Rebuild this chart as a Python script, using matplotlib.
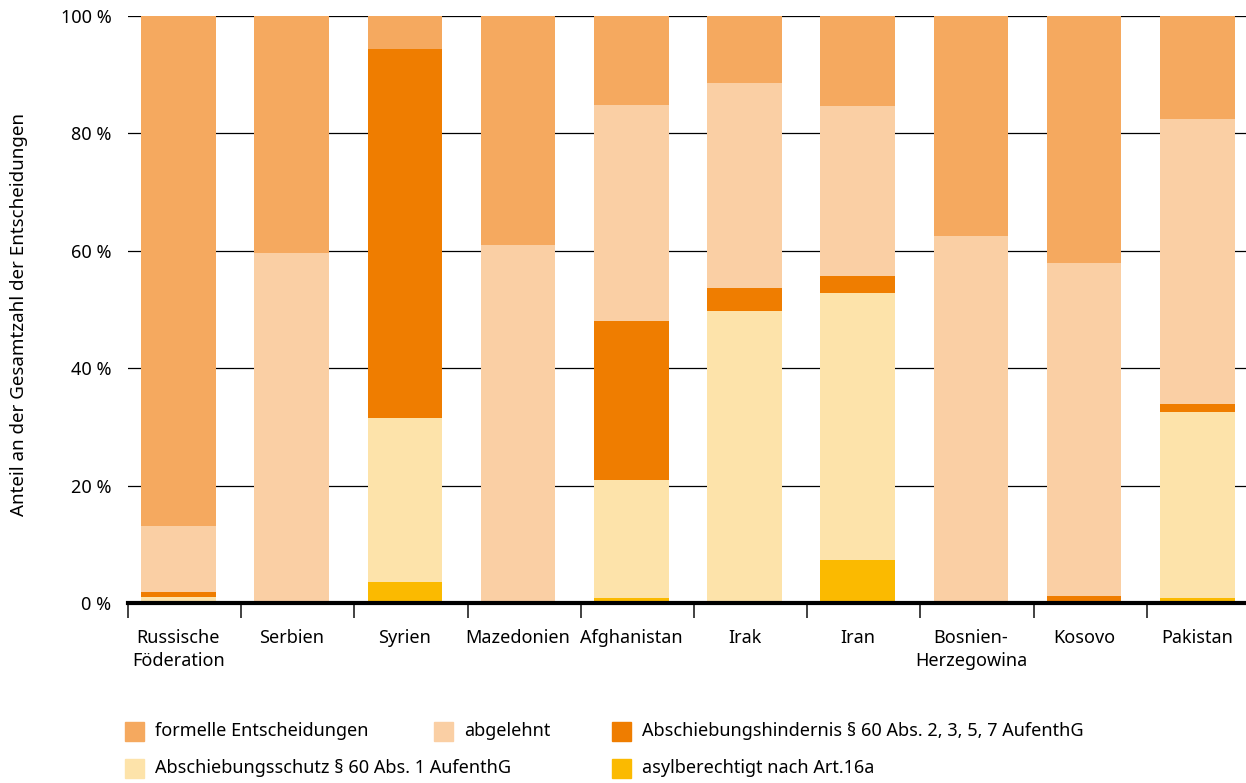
import matplotlib
matplotlib.use("Agg")
import matplotlib.pyplot as plt
import numpy as np
from matplotlib.patches import Rectangle

plt.rcParams['font.family'] = ['Noto Sans', 'DejaVu Sans']

countries = ["Russische\nFöderation", "Serbien", "Syrien", "Mazedonien", "Afghanistan",
             "Irak", "Iran", "Bosnien-\nHerzegowina", "Kosovo", "Pakistan"]

asyl       = [0.0, 0.0, 3.6, 0.0, 0.9, 0.0, 7.3, 0.0, 0.0, 0.8]
schutz     = [1.0, 0.0, 27.9, 0.0, 20.1, 49.7, 45.5, 0.0, 0.0, 31.7]
hindernis  = [0.9, 0.0, 62.9, 0.0, 27.0, 4.0, 2.9, 0.0, 1.2, 1.4]
abgelehnt  = [11.2, 59.6, 0.0, 61.0, 36.8, 34.9, 29.0, 62.5, 56.7, 48.6]
formelle   = [86.9, 40.4, 5.6, 39.0, 15.2, 11.4, 15.3, 37.5, 42.1, 17.5]

series = [
    ("asylberechtigt nach Art.16a", asyl, "#FBBA00"),
    ("Abschiebungsschutz § 60 Abs. 1 AufenthG", schutz, "#FDE3AA"),
    ("Abschiebungshindernis § 60 Abs. 2, 3, 5, 7 AufenthG", hindernis, "#EF7D00"),
    ("abgelehnt", abgelehnt, "#FACFA4"),
    ("formelle Entscheidungen", formelle, "#F5A95F"),
]

W, H = 1246, 783
fig = plt.figure(figsize=(W/100, H/100), dpi=100)
ax = fig.add_axes([128/W, 180/H, 1 - 128/W, (603-16)/H])

x = np.arange(len(countries))
bottom = np.zeros(len(countries))
for name, vals, col in series:
    v = np.array(vals)
    ax.bar(x, v, bottom=bottom, width=0.66, color=col, zorder=2, linewidth=0)
    bottom += v

off = 0.446
ax.set_xlim(-off, (W - 178.5) / 113.2)
ax.set_ylim(0, 100)
ax.set_yticks([0, 20, 40, 60, 80, 100])
ax.set_yticklabels(["0 %", "20 %", "40 %", "60 %", "80 %", "100 %"], fontsize=13)
ax.yaxis.grid(True, color="black", linewidth=0.9, zorder=1)
ax.set_axisbelow(True)
ax.tick_params(axis='y', length=0, pad=12)

ax.set_xticks(x)
ax.set_xticklabels(countries, fontsize=13, linespacing=1.35)
ax.set_xticks(x - off, minor=True)
ax.tick_params(axis='x', which='major', length=0, pad=19)
ax.tick_params(axis='x', which='minor', length=11, width=1.3, color="#333333", direction='out')

for s in ["top", "right", "left"]:
    ax.spines[s].set_visible(False)
ax.spines["bottom"].set_linewidth(3)
ax.spines["bottom"].set_color("black")
ax.spines["bottom"].set_zorder(3)

fig.text(19/W, 1 - 315/H, "Anteil an der Gesamtzahl der Entscheidungen",
         rotation=90, ha="center", va="center", fontsize=13.5)

# legend
legend_items = [
    (series[4], 125, 731),
    (series[3], 434, 731),
    (series[2], 612, 731),
    (series[1], 125, 768),
    (series[0], 612, 768),
]
for (name, vals, col), px, py in legend_items:
    fig.patches.append(Rectangle((px/W, 1 - (py+9.5)/H), 19/W, 19/H,
                                 transform=fig.transFigure, color=col, figure=fig))
    fig.text((px+30)/W, 1 - py/H, name, ha="left", va="center", fontsize=13)

fig.savefig("out.png", dpi=100)
